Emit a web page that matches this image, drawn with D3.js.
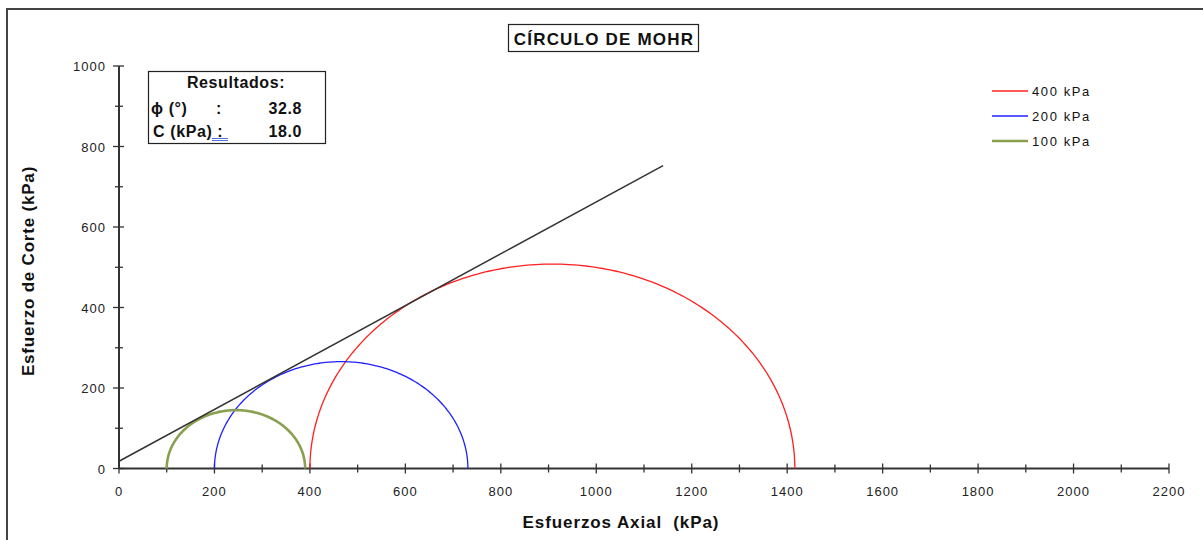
<!DOCTYPE html>
<html>
<head>
<meta charset="utf-8">
<script src="https://cdn.jsdelivr.net/npm/d3@7/dist/d3.min.js"></script>
<style>
  html, body { margin: 0; padding: 0; background: #fff; }
  svg { display: block; font-family: "Liberation Sans", Arial, sans-serif; }
</style>
</head>
<body>
<svg id="chart" width="1203" height="540"></svg>
<script>
// Mohr circle test results (kPa)
const confining = [400, 200, 100];          // sigma3 per test
const failure   = [1416, 731, 390];          // sigma1 at failure
const seriesNames = ["400 kPa", "200 kPa", "100 kPa"];
const seriesColors = ["#ff2020", "#2020ff", "#88a050"];
const seriesWidths = [1.3, 1.3, 2.6];

// Failure envelope: tau = c + sigma * tan(phi)
const phiDeg = 32.8;
const cohesion = 18.0;
const envelopeX = [0, 1140];

const xTicks = [0, 200, 400, 600, 800, 1000, 1200, 1400, 1600, 1800, 2000, 2200];
const yTicks = [0, 200, 400, 600, 800, 1000];

const svg = d3.select("#chart");

// outer frame
svg.append("rect")
  .attr("x", 7).attr("y", 9)
  .attr("width", 1210).attr("height", 550)
  .attr("fill", "none").attr("stroke", "#444").attr("stroke-width", 2);

const x = d3.scaleLinear().domain([0, 2200]).range([119, 1169]);
const y = d3.scaleLinear().domain([0, 1000]).range([468.5, 66]);

const axisColor = "#333";

// x axis
const gx = svg.append("g");
gx.append("line").attr("x1", x(0)).attr("x2", x(2200))
  .attr("y1", y(0)).attr("y2", y(0))
  .attr("stroke", axisColor).attr("stroke-width", 2);
d3.range(0, 2201, 100).forEach(v => {
  const major = v % 200 === 0;
  gx.append("line").attr("x1", x(v)).attr("x2", x(v))
    .attr("y1", y(0) - (major ? 5 : 4)).attr("y2", y(0) + (major ? 5 : 4))
    .attr("stroke", axisColor).attr("stroke-width", 1.3);
});
gx.selectAll("text.xt").data(xTicks).join("text")
  .attr("class", "xt")
  .attr("x", d => x(d)).attr("y", y(0) + 27)
  .attr("text-anchor", "middle")
  .attr("font-size", 13).attr("letter-spacing", 1).attr("fill", "#222")
  .text(d => d);

// y axis
const gy = svg.append("g");
gy.append("line").attr("x1", x(0)).attr("x2", x(0))
  .attr("y1", y(0)).attr("y2", y(1000))
  .attr("stroke", axisColor).attr("stroke-width", 2);
d3.range(0, 1001, 100).forEach(v => {
  const major = v % 200 === 0;
  gy.append("line").attr("x1", x(0) - (major ? 6 : 4)).attr("x2", x(0) + (major ? 5 : 4))
    .attr("y1", y(v)).attr("y2", y(v))
    .attr("stroke", axisColor).attr("stroke-width", 1.3);
});
gy.selectAll("text.yt").data(yTicks).join("text")
  .attr("class", "yt")
  .attr("x", x(0) - 13).attr("y", d => y(d) + 5)
  .attr("text-anchor", "end")
  .attr("font-size", 13).attr("letter-spacing", 1).attr("fill", "#222")
  .text(d => d);

// axis titles
svg.append("text")
  .attr("x", 621).attr("y", 528)
  .attr("text-anchor", "middle")
  .attr("font-size", 17).attr("letter-spacing", 0.9)
  .attr("font-weight", "bold").attr("fill", "#111")
  .style("white-space", "pre")
  .text("Esfuerzos Axial  (kPa)");

svg.append("text")
  .attr("transform", "translate(34,271) rotate(-90)")
  .attr("text-anchor", "middle")
  .attr("font-size", 17).attr("letter-spacing", 0.8)
  .attr("font-weight", "bold").attr("fill", "#111")
  .text("Esfuerzo de Corte (kPa)");

// title
svg.append("rect").attr("x", 508.5).attr("y", 24.5).attr("width", 190).attr("height", 27)
  .attr("fill", "#fff").attr("stroke", "#222").attr("stroke-width", 1.2);
svg.append("text")
  .attr("x", 604).attr("y", 45)
  .attr("text-anchor", "middle")
  .attr("font-size", 17).attr("letter-spacing", 1.2)
  .attr("font-weight", "bold").attr("fill", "#111")
  .text("CÍRCULO DE MOHR");

// Mohr semicircles
const line = d3.line().x(d => x(d[0])).y(d => y(d[1]));
const circles = confining.map((s3, i) => {
  const s1 = failure[i];
  const c = (s1 + s3) / 2, r = (s1 - s3) / 2;
  const pts = d3.range(0, 181).map(a => {
    const t = Math.PI - a * Math.PI / 180;
    return [c + r * Math.cos(t), r * Math.sin(t)];
  });
  return { pts, color: seriesColors[i], width: seriesWidths[i] };
});
svg.append("g").selectAll("path").data(circles).join("path")
  .attr("d", d => line(d.pts))
  .attr("fill", "none")
  .attr("stroke", d => d.color)
  .attr("stroke-width", d => d.width);

// envelope
const tanPhi = Math.tan(phiDeg * Math.PI / 180);
svg.append("path")
  .attr("d", line(envelopeX.map(s => [s, cohesion + s * tanPhi])))
  .attr("fill", "none").attr("stroke", "#333").attr("stroke-width", 1.5);

// results box
const rb = svg.append("g");
const bold = sel => sel.attr("font-size", 16).attr("letter-spacing", 0.6)
  .attr("font-weight", "bold").attr("fill", "#111");
rb.append("rect").attr("x", 148.5).attr("y", 71.5).attr("width", 177).attr("height", 72)
  .attr("fill", "#fff").attr("stroke", "#222").attr("stroke-width", 1.2);
rb.append("text").attr("x", 236).attr("y", 88).attr("text-anchor", "middle")
  .call(bold).text("Resultados:");
rb.append("text").attr("x", 151).attr("y", 114).call(bold).text("ϕ (°)");
rb.append("text").attr("x", 216).attr("y", 114).call(bold).text(":");
rb.append("text").attr("x", 302).attr("y", 114).attr("text-anchor", "end")
  .call(bold).text(phiDeg.toFixed(1));
rb.append("text").attr("x", 153).attr("y", 137).call(bold).text("C (kPa) :");
rb.append("text").attr("x", 302).attr("y", 137).attr("text-anchor", "end")
  .call(bold).text(cohesion.toFixed(1));
rb.append("line").attr("x1", 212).attr("x2", 228).attr("y1", 138.5).attr("y2", 138.5)
  .attr("stroke", "#5070e0").attr("stroke-width", 1);
rb.append("line").attr("x1", 212).attr("x2", 228).attr("y1", 140.5).attr("y2", 140.5)
  .attr("stroke", "#5070e0").attr("stroke-width", 1);

// legend
const lg = svg.append("g");
seriesNames.forEach((name, i) => {
  const ly = 91 + i * 25;
  lg.append("line").attr("x1", 992).attr("x2", 1028).attr("y1", ly).attr("y2", ly)
    .attr("stroke", seriesColors[i]).attr("stroke-width", seriesWidths[i]);
  lg.append("text").attr("x", 1032).attr("y", ly + 5)
    .attr("font-size", 13).attr("letter-spacing", 1.6).attr("fill", "#111")
    .text(name);
});
</script>
</body>
</html>
